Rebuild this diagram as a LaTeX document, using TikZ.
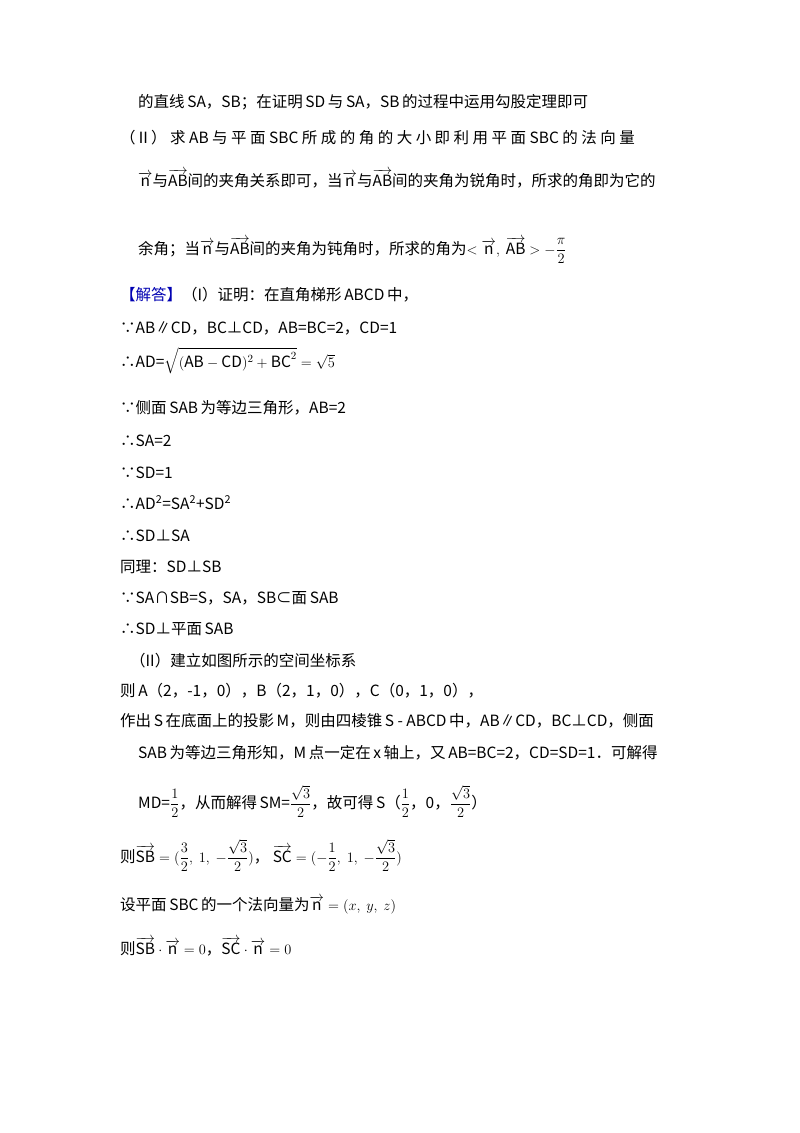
\documentclass[tikz,border=0pt]{standalone}
\usepackage{amsmath}
\usepackage{fontspec}
\setmainfont{Noto Sans CJK SC}
\begin{document}
\begin{tikzpicture}[x=1pt,y=-1pt,every node/.style={anchor=base west,inner sep=0pt,font=\fontsize{15.5}{18}\selectfont}]
\useasboundingbox (0,0) rectangle (800,1133);
\newcommand{\vv}[1]{\overrightarrow{\mathrm{#1}}}
\node (l1) at (138,107) {的直线\,SA，SB；在证明\,SD\,与\,SA，SB\,的过程中运用勾股定理即可};
\node (l2) at (120,143) {（Ⅱ）\ 求\ AB\ 与\ 平\ 面\ SBC\ 所\ 成\ 的\ 角\ 的\ 大\ 小\ 即\ 利\ 用\ 平\ 面\ SBC\ 的\ 法\ 向\ 量};
\node (l3) at (138,186) {$\vv{n}$与$\vv{AB}$间的夹角关系即可，当$\vv{n}$与$\vv{AB}$间的夹角为锐角时，所求的角即为它的};
\node (l4) at (138,254) {余角；当$\vv{n}$与$\vv{AB}$间的夹角为钝角时，所求的角为$<\vv{n},\ \vv{AB}>-\dfrac{\pi}{2}$};
\node (l5) at (120,300) {\textcolor{blue!70!black}{【解答】}（I）证明：在直角梯形\,ABCD\,中，};
\node (l6) at (120,333) {∵AB∥CD，BC⊥CD，AB=BC=2，CD=1};
\node (l7) at (120,367) {∴AD=$\sqrt{(\mathrm{AB}-\mathrm{CD})^2+\mathrm{BC}^2}=\sqrt{5}$};
\node (l8) at (120,413) {∵侧面\,SAB\,为等边三角形，AB=2};
\node (l9) at (120,446) {∴SA=2};
\node (l10) at (120,478) {∵SD=1};
\node (l11) at (120,509) {∴AD\textsuperscript{2}=SA\textsuperscript{2}+SD\textsuperscript{2}};
\node (l12) at (120,541) {∴SD⊥SA};
\node (l13) at (120,572) {同理：SD⊥SB};
\node (l14) at (120,603) {∵SA∩SB=S，SA，SB⊂面\,SAB};
\node (l15) at (120,634) {∴SD⊥平面\,SAB};
\node (l16) at (130,666) {（II）建立如图所示的空间坐标系};
\node (l17) at (120,696) {则\,A（2，-1，0），B（2，1，0），C（0，1，0），};
\node (l18) at (120,726) {作出\,S\,在底面上的投影\,M，则由四棱锥\,S - ABCD\,中，AB∥CD，BC⊥CD，侧面};
\node (l19) at (138,758) {SAB\,为等边三角形知，M\,点一定在\,x\,轴上，又\,AB=BC=2，CD=SD=1．可解得};
\node (l20) at (138,808) {MD=$\dfrac12$，从而解得\,SM=$\dfrac{\sqrt3}{2}$，故可得\,S（$\dfrac12$，0，$\dfrac{\sqrt3}{2}$）};
\node (l21) at (120,862) {则$\vv{SB}=(\dfrac32,\ 1,\ -\dfrac{\sqrt3}{2})$，\ $\vv{SC}=(-\dfrac12,\ 1,\ -\dfrac{\sqrt3}{2})$};
\node (l22) at (120,910) {设平面\,SBC\,的一个法向量为$\vv{n}=(x,\ y,\ z)$};
\node (l23) at (120,954) {则$\vv{SB}\cdot\vv{n}=0$，$\vv{SC}\cdot\vv{n}=0$};
\end{tikzpicture}
\end{document}
